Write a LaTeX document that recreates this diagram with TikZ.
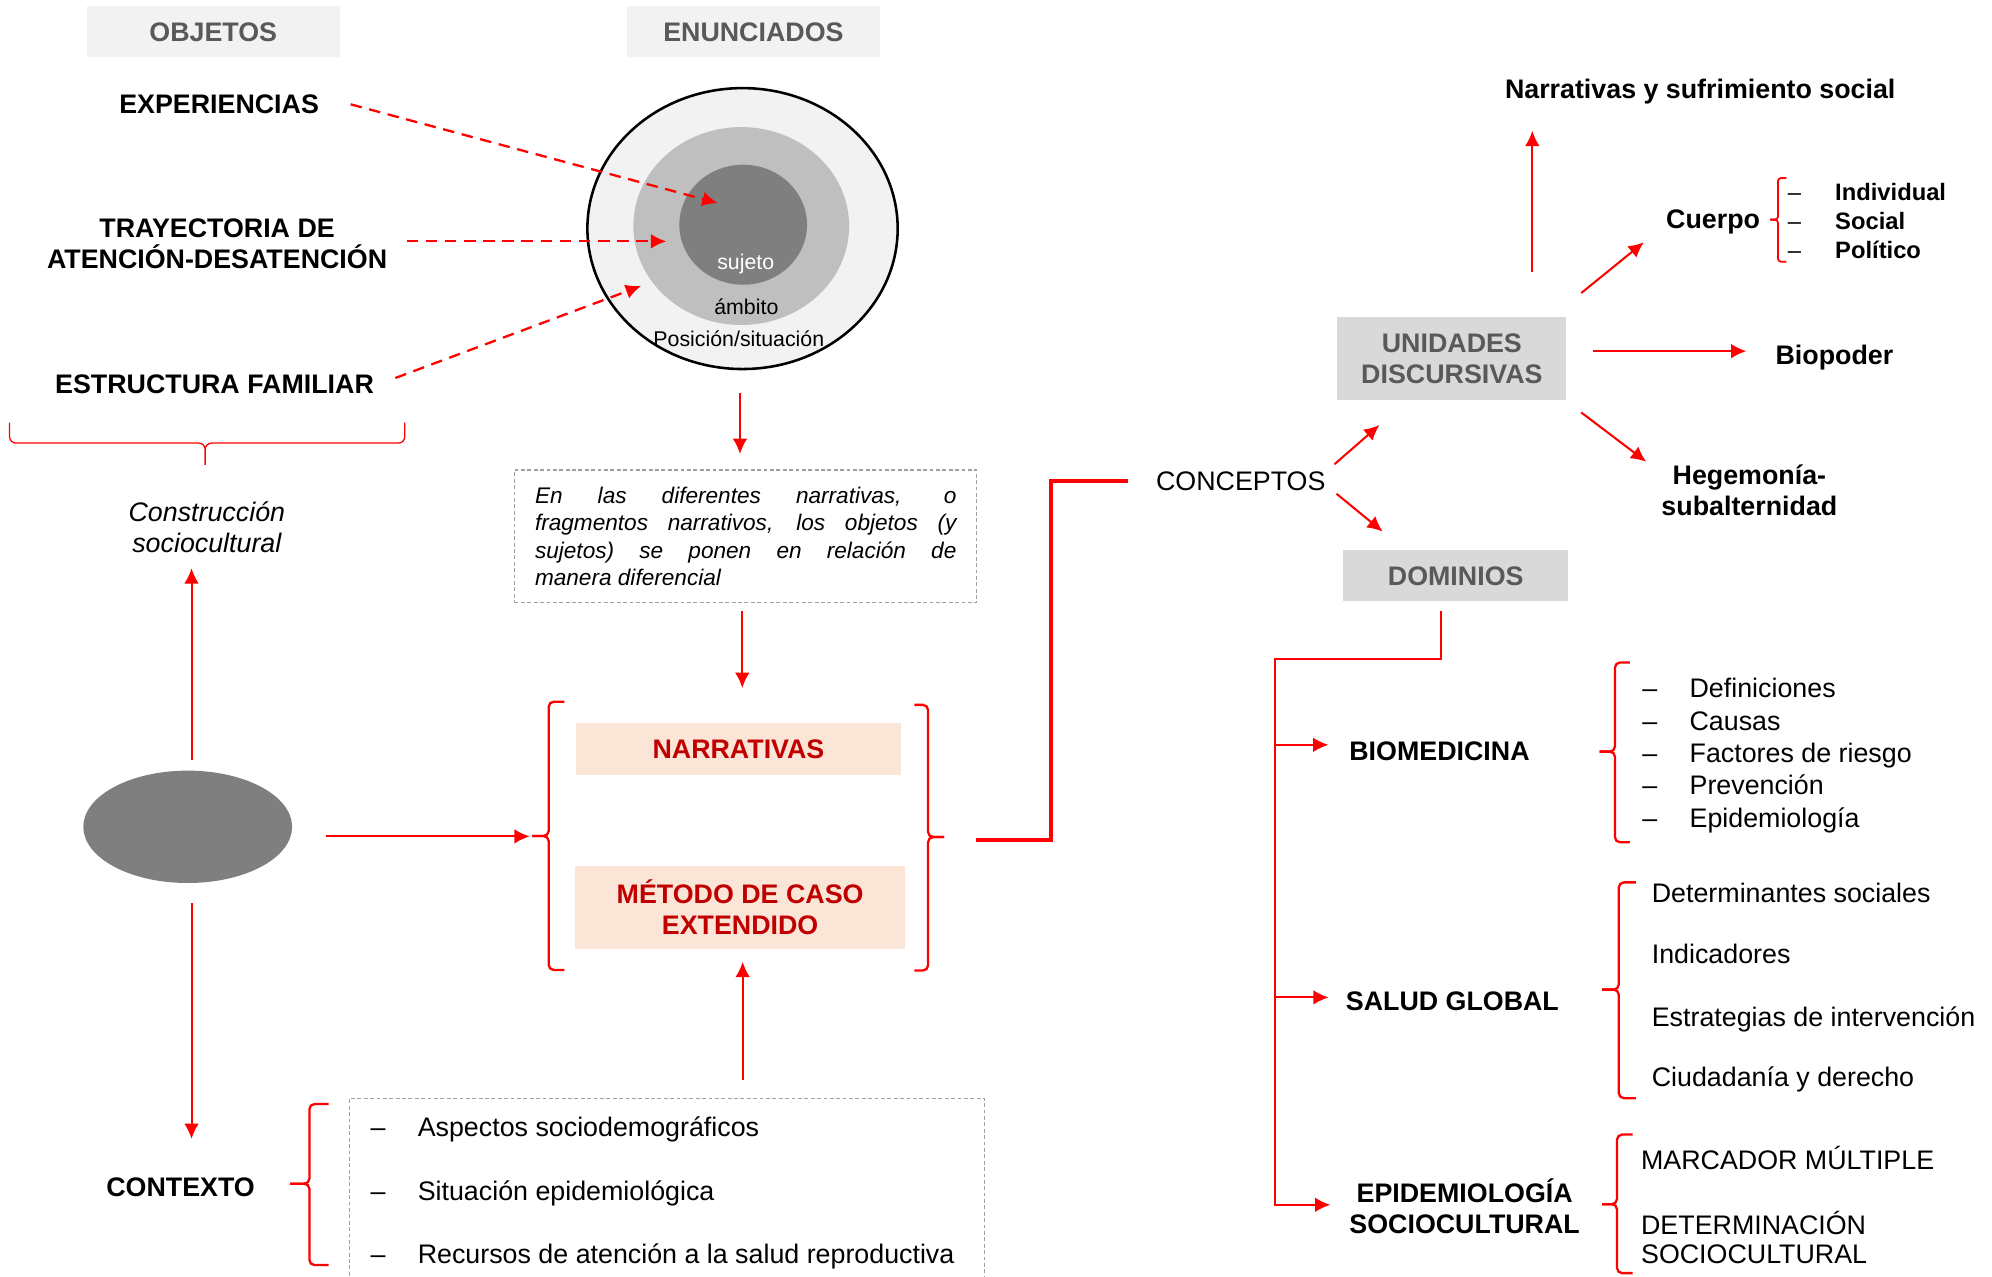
\documentclass[tikz,border=0pt]{standalone}
\usepackage{fontspec}
\setmainfont{Liberation Sans}
\usetikzlibrary{shapes,arrows.meta}
\newcommand{\fnt}{\fontsize{21}{24}\selectfont}
\newcommand{\guion}{\makebox[37pt][l]{\mdseries --}}
\newcommand{\llave}[7][]{%
  \draw[corchete,#1] ({#2+#3},#5) -- (#2,#5) -- (#2,#6) -- ({#2+#4},#6);
  \draw[corchete,#1] ({#2+#4},#6) -- (#2,#6) -- (#2,#7) -- ({#2+#3},#7);}
\definecolor{grisclaro}{RGB}{242,242,242}
\definecolor{grismedio}{RGB}{217,217,217}
\definecolor{grisamb}{RGB}{191,191,191}
\definecolor{grisosc}{RGB}{127,127,127}
\definecolor{gristexto}{RGB}{89,89,89}
\definecolor{grisborde}{RGB}{160,160,160}
\definecolor{salmon}{RGB}{251,229,214}
\definecolor{rojoosc}{RGB}{192,0,0}
\tikzset{
titulo/.style = {fill=grisclaro, text=gristexto, font=\fnt\bfseries, minimum width=198pt, minimum height=40pt, text height=15pt, text depth=0pt},
unidad/.style = {fill=grismedio, text=gristexto, font=\fnt\bfseries, align=center},
metodo/.style = {fill=salmon, text=rojoosc, font=\fnt\bfseries, align=center},
etiq/.style = {font=\fnt\bfseries, align=center},
una/.style = {text height=15pt, text depth=0pt},
elem/.style = {anchor=west, inner sep=0pt, text height=15pt, text depth=0pt},
caja/.style = {draw=grisborde, line width=1pt, dash pattern=on 3pt off 2pt},
flecha/.style = {->, red, line width=1.6pt},
punteada/.style = {->, red, line width=1.8pt, dash pattern=on 9pt off 6pt},
linea/.style = {red, line width=1.2pt},
gruesa/.style = {red, line width=3pt},
corchete/.style = {draw=red, line width=1.8pt, rounded corners=4pt}
}

\begin{document}
\begin{tikzpicture}[x=1pt, y=-1pt, >={Latex[length=12pt,width=11.5pt]}, font=\fnt, inner sep=2pt]
\useasboundingbox[fill=white] (0,0) rectangle (1560,999.3);

\node[titulo] (obj) at (167,25) {OBJETOS};
\node[titulo] (enun) at (590,25) {ENUNCIADOS};
\node[etiq, una] (exp) at (171.6,81.7) {EXPERIENCIAS};
\node[etiq] (tray) at (170,191) {TRAYECTORIA DE\\ATENCIÓN-DESATENCIÓN};
\node[etiq, una] (estr) at (168,301) {ESTRUCTURA FAMILIAR};

\node[ellipse, draw=black, line width=2pt, fill=grisclaro, minimum width=243pt, minimum height=220pt, inner sep=0pt] (pos) at (581.5,179) {};
\node[ellipse, fill=grisamb, minimum width=169pt, minimum height=155pt, inner sep=0pt] (amb) at (580.5,177) {};
\node[ellipse, fill=grisosc, minimum width=100pt, minimum height=94pt, inner sep=0pt] (suj) at (582,176) {};
\node[font=\fontsize{16.7}{20}\selectfont, text=white] (tsuj) at (584,207) {sujeto};
\node[font=\fontsize{16.7}{20}\selectfont] (tamb) at (584.5,240) {ámbito};
\node[font=\fontsize{16.7}{20}\selectfont] (tpos) at (578.6,265.5) {Posición/situación};

\draw[punteada] ([xshift=22.6pt]exp.east) -- ([xshift=-20pt,yshift=17pt]suj.center);
\draw[punteada] ([xshift=13pt,yshift=2pt]tray.east) -- ([xshift=-10pt,yshift=-13pt]suj.west);
\draw[punteada] ([xshift=14.6pt,yshift=5pt]estr.east) -- ([xshift=-78.5pt,yshift=-47pt]amb.center);

\draw[corchete, line width=1pt, rounded corners=5pt] (7.5,331) -- (7.5,347) -- (160.7,347) -- (160.7,364);
\draw[corchete, line width=1pt, rounded corners=5pt] (317,331) -- (317,347) -- (160.7,347) -- (160.7,364);
\node[font=\fnt\itshape, align=center] (cons) at (162,413) {Construcción\\sociocultural};
\node[ellipse, fill=grisosc, minimum width=163.5pt, minimum height=88pt, inner sep=0pt] (elip) at (147,647.5) {};
\node[etiq, una] (ctx) at (141.4,929.6) {CONTEXTO};
\draw[flecha, shorten <=8.5pt, shorten >=10pt] ([xshift=3pt]elip.north) -- ([xshift=3pt]elip.north |- cons.south);
\draw[flecha, shorten <=15.5pt, shorten >=28pt] ([xshift=3pt]elip.south) -- ([xshift=3pt]elip.south |- ctx.north);

\node[caja, font=\fontsize{17.7}{21.5}\selectfont\itshape, text width=330pt, align=justify, minimum height=104pt, inner xsep=16pt, inner ysep=0pt] (frase) at (584,420) {En las diferentes narrativas, o\linebreak fragmentos narrativos, los objetos (y\linebreak sujetos) se ponen en relación de\linebreak manera diferencial};
\draw[flecha, shorten <=18pt, shorten >=12pt] ([xshift=-2pt]pos.south) -- ([xshift=-2pt]pos.south |- frase.north);

\node[minimum width=274pt, minimum height=210pt, inner sep=0pt] (grupo) at (579,655) {};
\node[metodo, una, minimum width=255pt, minimum height=40.6pt] (narr) at (578.3,586.3) {NARRATIVAS};
\node[metodo, minimum width=258pt, minimum height=65pt] (met) at (579.6,710.5) {MÉTODO DE CASO\\EXTENDIDO};
\llave{429.7}{12.3}{-12.7}{549.5}{654.7}{759.6}
\llave{726.8}{-10.8}{12.6}{552}{655.5}{760}
\draw[flecha, shorten <=6pt, shorten >=27pt] ([xshift=3pt]narr.north |- frase.south) -- ([xshift=3pt]narr.north);
\draw[flecha, shorten <=26pt, shorten >=27pt] (elip.east |- grupo.west) -- (grupo.west);

\node[caja, minimum width=497pt, minimum height=160pt, inner sep=0pt] (lista) at (522.4,940) {};
\node[elem] (c1) at (290,882.6) {\guion Aspectos sociodemográficos};
\node[elem] (c2) at (290,932.4) {\guion Situación epidemiológica};
\node[elem] (c3) at (290,982) {\guion Recursos de atención a la salud reproductiva};
\llave{242.3}{15}{-15}{864.6}{927}{990.7}
\draw[flecha, shorten <=14pt, shorten >=10pt] ([xshift=2pt]met.south |- lista.north) -- ([xshift=2pt]met.south);

\node[una] (conc) at (971.7,377) {CONCEPTOS};
\draw[gruesa] ([xshift=48pt,yshift=-3pt]grupo.east) -- ++(58.7,0) |- ([xshift=-19.6pt]conc.west);

\node[unidad, minimum width=179.4pt, minimum height=65pt] (unid) at (1137,281) {UNIDADES\\DISCURSIVAS};
\node[unidad, una, minimum width=176pt, minimum height=40pt] (dom) at (1140,451) {DOMINIOS};
\draw[flecha] ([xshift=4.8pt,yshift=3.7pt]conc.north east) -- ([xshift=33.2pt,yshift=-19.1pt]unid.south west);
\draw[flecha] ([xshift=6.5pt]conc.south east) -- ([xshift=31pt,yshift=14.5pt]dom.north west);

\node[etiq, una] (sufr) at (1331.5,69.7) {Narrativas y sufrimiento social};
\node[etiq, una] (cuerpo) at (1341.6,171.8) {Cuerpo};
\node[etiq, una] (biop) at (1436.6,278) {Biopoder};
\node[etiq] (heg) at (1370,384) {Hegemonía-\\subalternidad};
\draw[flecha, shorten <=35pt, shorten >=23pt] ([xshift=63pt]unid.north) -- ([xshift=63pt]unid.north |- sufr.south);
\draw[flecha] ([xshift=11.4pt,yshift=18.8pt]unid.north east) -- ([xshift=-15.3pt,yshift=-8.2pt]cuerpo.south west);
\draw[flecha] ([xshift=20.7pt,yshift=6pt]unid.east) -- ([xshift=-20.7pt,yshift=3pt]biop.west);
\draw[flecha] ([xshift=11.4pt,yshift=-9.3pt]unid.south east) -- ([xshift=-9.7pt,yshift=22.4pt]heg.west);

\llave[line width=1.4pt, rounded corners=2.5pt]{1392.4}{6.5}{-6}{139.4}{172}{205}
\node[elem, font=\fontsize{18.6}{22}\selectfont\bfseries, text height=13.3pt] (cu1) at (1400,150.2) {\guion Individual};
\node[elem, font=\fontsize{18.6}{22}\selectfont\bfseries, text height=13.3pt] (cu2) at (1400,172.8) {\guion Social};
\node[elem, font=\fontsize{18.6}{22}\selectfont\bfseries, text height=13.3pt] (cu3) at (1400,195.7) {\guion Político};

\node[etiq, una] (bio) at (1127.3,588) {BIOMEDICINA};
\node[etiq, una] (salud) at (1137.4,784) {SALUD GLOBAL};
\node[etiq] (epid) at (1147,944.7) {EPIDEMIOLOGÍA\\SOCIOCULTURAL};
\coordinate (rama) at (998.5,516);
\draw[linea] ([xshift=-11.5pt,yshift=-7pt]dom.south) |- (rama) -- (rama |- epid.west);
\draw[flecha, shorten >=14.2pt] ([yshift=4.7pt]rama |- bio.west) -- ([yshift=4.7pt]bio.west);
\draw[flecha, shorten >=11.3pt] ([yshift=2.9pt]rama |- salud.west) -- ([yshift=2.9pt]salud.west);
\draw[flecha, shorten >=12.7pt] ([yshift=1.2pt]rama |- epid.west) -- ([yshift=1.2pt]epid.west);

\llave{1264.7}{11.7}{-12}{518.8}{588.6}{659.6}
\node[elem] (b1) at (1286,539) {\guion Definiciones};
\node[elem] (b2) at (1286,564.4) {\guion Causas};
\node[elem] (b3) at (1286,589.7) {\guion Factores de riesgo};
\node[elem] (b4) at (1286,615) {\guion Prevención};
\node[elem] (b5) at (1286,640.3) {\guion Epidemiología};

\llave{1267.7}{13.3}{-13}{691}{775}{860}
\node[elem] (s1) at (1293.4,699.4) {Determinantes sociales};
\node[elem] (s2) at (1293.4,747.4) {Indicadores};
\node[elem] (s3) at (1293.4,796.5) {Estrategias de intervención};
\node[elem] (s4) at (1293.4,843.5) {Ciudadanía y derecho};

\llave{1266.3}{12.2}{-11.6}{888.5}{943}{997}
\node[elem] (e1) at (1285,908.7) {MARCADOR MÚLTIPLE};
\node[anchor=west, inner sep=0pt, align=left, font=\fontsize{21}{22.6}\selectfont] (e2) at (1285,969) {DETERMINACIÓN\\SOCIOCULTURAL};
\end{tikzpicture}
\end{document}
